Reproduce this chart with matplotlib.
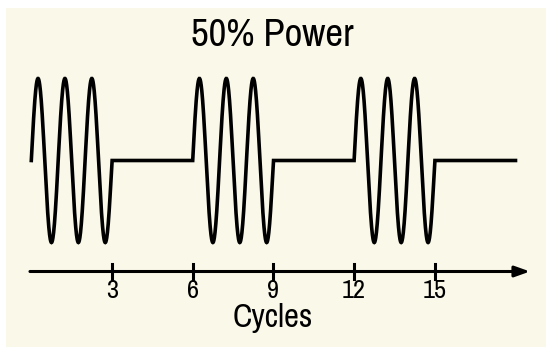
import numpy as np
import matplotlib
matplotlib.use("Agg")
import matplotlib.pyplot as plt
from matplotlib.patches import Rectangle
from matplotlib import font_manager

# ---- data ----
title = "50% Power"
xlabel = "Cycles"
burst_starts = [0, 6, 12]      # cycles where power is on
burst_length = 3               # cycles per burst
total_cycles = 18
amplitude = 1.0
tick_values = [3, 6, 9, 12, 15]
tick_labels = ["3", "6", "9", "12", "15"]

names = sorted({f.name for f in font_manager.fontManager.ttflist})
narrow = [n for n in names if "Narrow" in n or "Condensed" in n]
fam = ([narrow[0]] if narrow else ["Liberation Sans"]) + ["DejaVu Sans"]
plt.rcParams['font.family'] = fam

W, H = 546, 347
fig = plt.figure(figsize=(W/100, H/100), dpi=100)
fig.patch.set_facecolor("white")

ax = fig.add_axes([0, 0, 1, 1])
ax.set_facecolor("none")
ax.add_patch(Rectangle((6/W, 0), 1 - 6/W, (H-8)/H, transform=fig.transFigure,
                       facecolor="#faf8e8", edgecolor="none", zorder=-5))
px_per_cycle = 26.9
x0_px = 31.3
ax.set_xlim(-x0_px/px_per_cycle, (W - x0_px)/px_per_cycle)
mid_px, amp_px = 160.5, 82.0
ax.set_ylim((mid_px - H)/amp_px, mid_px/amp_px)
ax.axis("off")

# waveform
pts_per_cycle = 200
t = np.linspace(0, total_cycles, total_cycles*pts_per_cycle + 1)
on = np.zeros_like(t, dtype=bool)
for s in burst_starts:
    on |= (t >= s) & (t <= s + burst_length)
y = np.where(on, amplitude*np.sin(2*np.pi*t), 0.0)
ax.plot(t, y, color="black", lw=2.6, solid_joinstyle="miter", zorder=3)

# axis arrow
axis_y = (mid_px - 271.5)/amp_px
x_end = (530 - x0_px)/px_per_cycle
ax.annotate("", xy=(x_end, axis_y), xytext=(-0.05, axis_y),
            arrowprops=dict(arrowstyle="-|>,head_length=0.9,head_width=0.32",
                            color="black", lw=2.2, shrinkA=0, shrinkB=0))
tick_half = 7.5/amp_px
for v, lab in zip(tick_values, tick_labels):
    ax.plot([v, v], [axis_y - tick_half, axis_y + tick_half], color="black", lw=2.2)
    ax.text(v, (mid_px - 291)/amp_px, lab, ha="center", va="center", fontsize=19)

ax.text((273 - x0_px)/px_per_cycle, (mid_px - 318)/amp_px, xlabel,
        ha="center", va="center", fontsize=23.5)
ax.text((272 - x0_px)/px_per_cycle, (mid_px - 36)/amp_px, title,
        ha="center", va="center", fontsize=28)

fig.savefig("out.png", dpi=100)
